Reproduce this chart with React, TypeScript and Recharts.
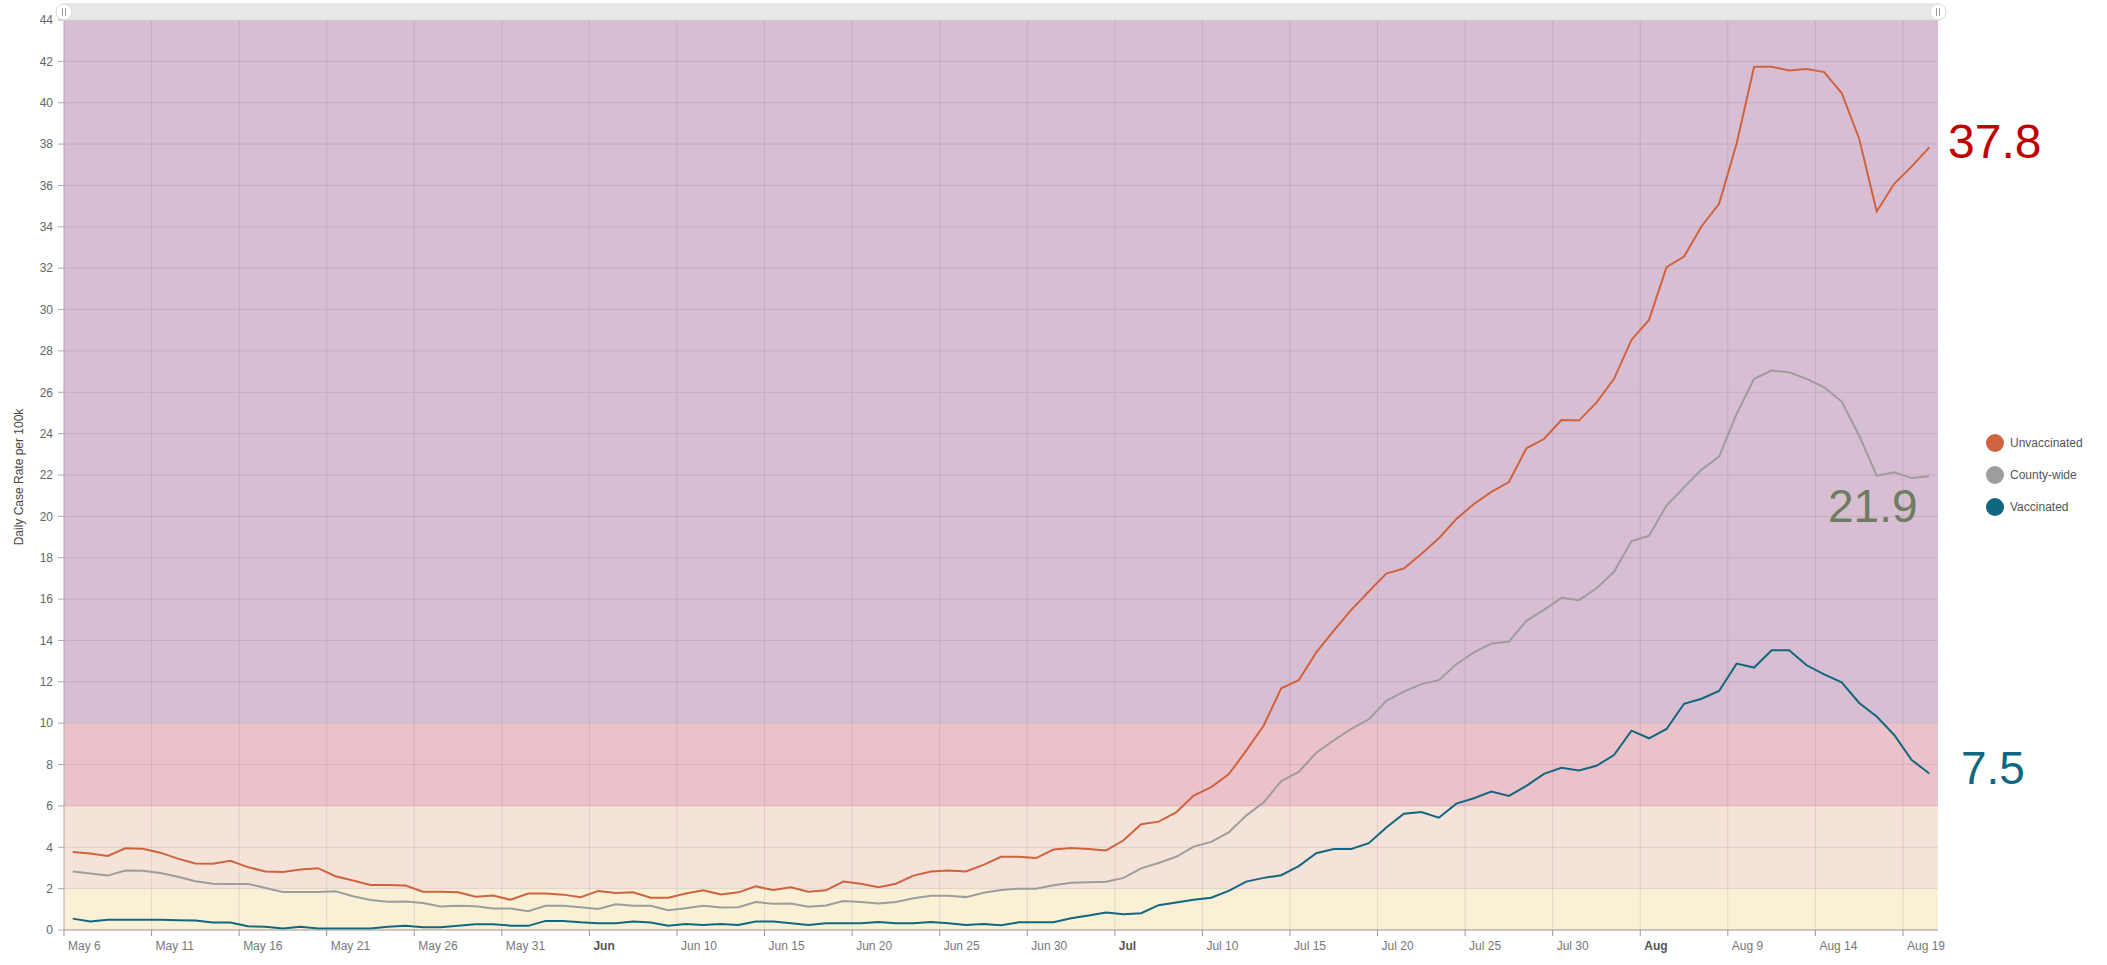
import React from "react";
import {
  LineChart,
  Line,
  XAxis,
  YAxis,
  ReferenceArea,
  ReferenceLine,
} from "recharts";

const WIDTH = 2107;
const HEIGHT = 965;

// one value per day, May 6 .. Aug 20
const UNVACCINATED = [
  3.77, 3.7, 3.58, 3.95, 3.93, 3.74, 3.45, 3.22, 3.2, 3.35, 3.04, 2.83, 2.81, 2.93, 2.99,
  2.6, 2.39, 2.18, 2.18, 2.15, 1.85, 1.85, 1.82, 1.61, 1.67, 1.46, 1.76, 1.76, 1.71, 1.59,
  1.89, 1.79, 1.82, 1.56, 1.56, 1.76, 1.92, 1.72, 1.82, 2.11, 1.93, 2.07, 1.85, 1.92, 2.34,
  2.24, 2.07, 2.24, 2.63, 2.83, 2.88, 2.83, 3.15, 3.54, 3.54, 3.48, 3.89, 3.97, 3.92, 3.85,
  4.34, 5.11, 5.24, 5.69, 6.5, 6.91, 7.53, 8.67, 9.89, 11.69, 12.08, 13.42, 14.47, 15.48,
  16.37, 17.23, 17.48, 18.18, 18.94, 19.87, 20.6, 21.18, 21.66, 23.29, 23.74, 24.66, 24.63,
  25.5, 26.65, 28.53, 29.5, 32.05, 32.56, 34.03, 35.11, 38.02, 41.74, 41.74, 41.56, 41.63,
  41.48, 40.47, 38.26, 34.74, 36.08, 36.92, 37.84,
];

const COUNTY_WIDE = [
  2.83, 2.73, 2.63, 2.88, 2.86, 2.76, 2.57, 2.36, 2.24, 2.23, 2.23, 2.03, 1.84, 1.84, 1.84,
  1.87, 1.63, 1.45, 1.37, 1.38, 1.3, 1.14, 1.17, 1.15, 1.04, 1.04, 0.91, 1.17, 1.17, 1.1,
  1.02, 1.24, 1.17, 1.17, 0.96, 1.05, 1.17, 1.09, 1.1, 1.35, 1.27, 1.28, 1.12, 1.19, 1.4,
  1.35, 1.28, 1.35, 1.53, 1.66, 1.66, 1.59, 1.8, 1.93, 2.0, 2.0, 2.16, 2.29, 2.31, 2.33,
  2.52, 2.98, 3.24, 3.54, 4.03, 4.26, 4.72, 5.53, 6.18, 7.2, 7.64, 8.57, 9.17, 9.72, 10.19,
  11.08, 11.53, 11.89, 12.08, 12.85, 13.42, 13.85, 13.94, 14.95, 15.48, 16.06, 15.95, 16.52,
  17.32, 18.81, 19.06, 20.52, 21.4, 22.26, 22.89, 24.95, 26.65, 27.05, 26.97, 26.65, 26.24,
  25.55, 23.9, 21.97, 22.13, 21.85, 21.94,
];

const VACCINATED = [
  0.55, 0.41, 0.5, 0.5, 0.49, 0.49, 0.47, 0.46, 0.36, 0.36, 0.18, 0.16, 0.07, 0.16, 0.07,
  0.07, 0.07, 0.07, 0.16, 0.21, 0.13, 0.13, 0.21, 0.28, 0.28, 0.21, 0.2, 0.44, 0.44, 0.37,
  0.33, 0.33, 0.41, 0.36, 0.21, 0.29, 0.24, 0.29, 0.24, 0.41, 0.41, 0.33, 0.24, 0.33, 0.33,
  0.33, 0.39, 0.33, 0.33, 0.39, 0.33, 0.24, 0.29, 0.23, 0.37, 0.37, 0.37, 0.57, 0.7, 0.85,
  0.76, 0.81, 1.2, 1.33, 1.46, 1.56, 1.89, 2.34, 2.52, 2.65, 3.09, 3.71, 3.92, 3.92, 4.2,
  4.96, 5.62, 5.7, 5.43, 6.11, 6.37, 6.69, 6.48, 6.97, 7.55, 7.84, 7.71, 7.94, 8.46, 9.64,
  9.27, 9.72, 10.94, 11.18, 11.56, 12.88, 12.69, 13.53, 13.53, 12.8, 12.36, 11.98, 10.98,
  10.32, 9.43, 8.22, 7.57,
];

const SERIES_NAMES = ["Unvaccinated", "County-wide", "Vaccinated"];
const LATEST_LABELS = ["37.8", "21.9", "7.5"];

const X_TICKS = [0, 5, 10, 15, 20, 25, 30, 35, 40, 45, 50, 55, 60, 65, 70, 75, 80, 85, 90, 95, 100, 105];
const X_TICK_LABELS = [
  "May 6", "May 11", "May 16", "May 21", "May 26", "May 31", "Jun", "Jun 10", "Jun 15",
  "Jun 20", "Jun 25", "Jun 30", "Jul", "Jul 10", "Jul 15", "Jul 20", "Jul 25", "Jul 30",
  "Aug", "Aug 9", "Aug 14", "Aug 19",
];
const Y_TICKS = [0, 2, 4, 6, 8, 10, 12, 14, 16, 18, 20, 22, 24, 26, 28, 30, 32, 34, 36, 38, 40, 42, 44];
const BAND_LIMITS = [0, 2, 6, 10, 44];

const BAND_COLORS = ["#faf0d6", "#f5e3d9", "#ecc2ca", "#d8bed2"];
const LINE_COLORS = ["#d0633f", "#9d9d9d", "#11677f"];
const LABEL_COLORS = ["#c00000", "#6e7d62", "#0f6680"];

const data = UNVACCINATED.map((v, i) => ({
  x: i + 0.5,
  unvax: v,
  county: COUNTY_WIDE[i],
  vax: VACCINATED[i],
}));

const FONT = "'Liberation Sans', Arial, sans-serif";

function XTick(props: any) {
  const { x, y, payload } = props;
  const idx = X_TICKS.indexOf(payload.value);
  const label = X_TICK_LABELS[idx] ?? "";
  const isMonth = !/\d/.test(label);
  return (
    <text
      x={x + 4}
      y={y + 12}
      textAnchor="start"
      fontSize={12}
      fontFamily={FONT}
      fontWeight={isMonth ? 700 : 400}
      fill={isMonth ? "#555" : "#777"}
    >
      {label}
    </text>
  );
}

function Scrollbar() {
  return (
    <svg
      width={WIDTH}
      height={30}
      style={{ position: "absolute", left: 0, top: 0, pointerEvents: "none" }}
    >
      <rect x={64} y={4} width={1874} height={16} fill="#e8e8e8" stroke="#dcdcdc" />
      {[64, 1938].map((cx) => (
        <g key={cx}>
          <circle cx={cx} cy={12} r={8} fill="#fff" stroke="#d8d8d8" />
          <line x1={cx - 1.5} y1={8} x2={cx - 1.5} y2={16} stroke="#999" />
          <line x1={cx + 1.5} y1={8} x2={cx + 1.5} y2={16} stroke="#999" />
        </g>
      ))}
    </svg>
  );
}

export default function App() {
  return (
    <div
      style={{
        position: "absolute",
        left: 0,
        top: 0,
        width: WIDTH,
        height: HEIGHT,
        background: "#fff",
        fontFamily: FONT,
      }}
    >
      <LineChart
        width={WIDTH}
        height={HEIGHT}
        data={data}
        margin={{ top: 20, right: 159, bottom: 0, left: 0 }}
      >
        <XAxis
          type="number"
          dataKey="x"
          domain={[0, 107]}
          ticks={X_TICKS}
          interval={0}
          allowDataOverflow
          height={35}
          tick={<XTick />}
          tickSize={6}
          tickLine={{ stroke: "#999" }}
          axisLine={{ stroke: "#999" }}
        />
        <YAxis
          type="number"
          domain={[0, 44]}
          ticks={Y_TICKS}
          interval={0}
          width={64}
          tickSize={6}
          tickMargin={5}
          tick={{ fontSize: 12, fill: "#666", fontFamily: FONT }}
          tickLine={{ stroke: "#aaa" }}
          axisLine={{ stroke: "#aaa" }}
        />
        <YAxis
          yAxisId="right"
          orientation="right"
          type="number"
          domain={[0, 44]}
          ticks={[2, 6, 10]}
          interval={0}
          width={10}
          tick={false}
          tickSize={6}
          tickLine={{ stroke: "#aaa" }}
          axisLine={false}
        />
        {BAND_COLORS.map((c, i) => (
          <ReferenceArea
            key={c}
            y1={BAND_LIMITS[i]}
            y2={BAND_LIMITS[i + 1]}
            fill={c}
            fillOpacity={1}
            stroke="none"
            ifOverflow="hidden"
          />
        ))}
        {Y_TICKS.slice(1).map((v) => (
          <ReferenceLine key={"y" + v} y={v} stroke="#6a4a62" strokeOpacity={0.14} />
        ))}
        {X_TICKS.slice(1).map((v) => (
          <ReferenceLine key={"x" + v} x={v} stroke="#6a4a62" strokeOpacity={0.14} />
        ))}
        <Line
          dataKey="unvax"
          name={SERIES_NAMES[0]}
          type="linear"
          stroke={LINE_COLORS[0]}
          strokeWidth={2}
          dot={false}
          isAnimationActive={false}
        />
        <Line
          dataKey="county"
          name={SERIES_NAMES[1]}
          type="linear"
          stroke={LINE_COLORS[1]}
          strokeWidth={2}
          dot={false}
          isAnimationActive={false}
        />
        <Line
          dataKey="vax"
          name={SERIES_NAMES[2]}
          type="linear"
          stroke={LINE_COLORS[2]}
          strokeWidth={2}
          dot={false}
          isAnimationActive={false}
        />
      </LineChart>

      <Scrollbar />

      <div
        style={{
          position: "absolute",
          left: 19,
          top: 477,
          transform: "translate(-50%, -50%) rotate(-90deg)",
          whiteSpace: "nowrap",
          fontSize: 12,
          color: "#444",
        }}
      >
        Daily Case Rate per 100k
      </div>

      <div style={{ position: "absolute", left: 1948, top: 116, fontSize: 48, lineHeight: "52px", color: LABEL_COLORS[0] }}>
        {LATEST_LABELS[0]}
      </div>
      <div style={{ position: "absolute", left: 1828, top: 481, fontSize: 46, lineHeight: "50px", color: LABEL_COLORS[1] }}>
        {LATEST_LABELS[1]}
      </div>
      <div style={{ position: "absolute", left: 1961, top: 743, fontSize: 46, lineHeight: "50px", color: LABEL_COLORS[2] }}>
        {LATEST_LABELS[2]}
      </div>

      {SERIES_NAMES.map((name, i) => (
        <div
          key={name}
          style={{
            position: "absolute",
            left: 1986,
            top: 434 + i * 32,
            height: 18,
            display: "flex",
            alignItems: "center",
            fontSize: 12,
            color: "#555",
          }}
        >
          <span
            style={{
              display: "inline-block",
              width: 18,
              height: 18,
              borderRadius: 9,
              background: LINE_COLORS[i],
              marginRight: 6,
            }}
          />
          {name}
        </div>
      ))}
    </div>
  );
}
